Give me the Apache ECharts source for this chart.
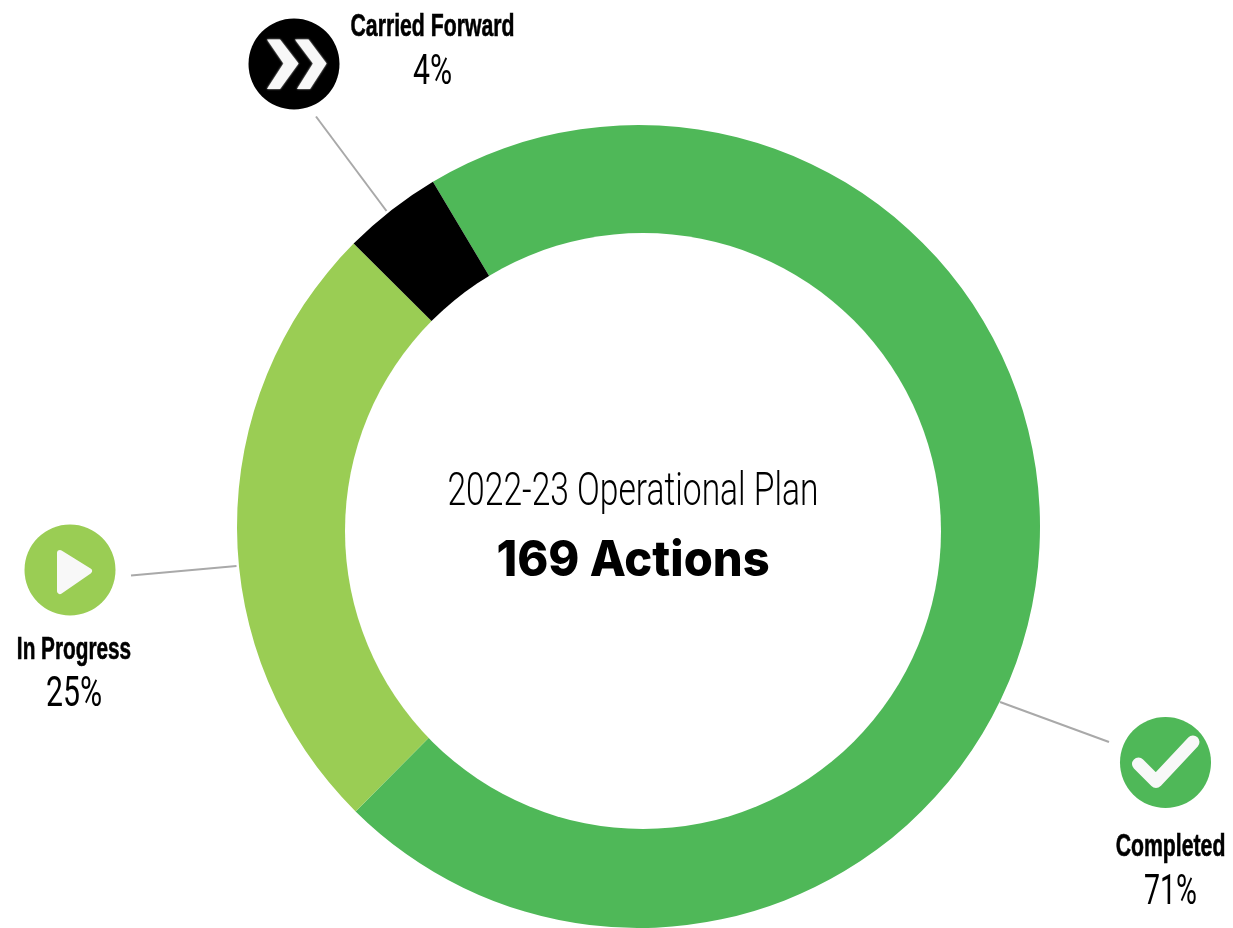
<!DOCTYPE html>
<html>
<head>
<meta charset="utf-8">
<title>2022-23 Operational Plan</title>
<style>
	html, body { margin: 0; padding: 0; background: #fff; }
	#main { width: 1233px; height: 928px; }
</style>
<script src="https://cdn.jsdelivr.net/npm/echarts@6/dist/echarts.min.js"></script>
</head>
<body>
<div id="main"></div>
<script>
const statusNames = ["Completed", "In Progress", "Carried Forward"];
const statusValues = [71, 25, 4];
const statusColors = ["#4fb858", "#9acd54", "#000000"];
const planTitle = "2022-23 Operational Plan";
const actionsText = "169 Actions";

const narrowFont = "Liberation Sans";
const thinFont = "Roboto";

// centered text, squeezed with scaleX since no condensed font is installed
function label(text, x, y, family, size, weight, squeeze, thicken) {
	return {
		type: "text",
		x: x,
		y: y,
		scaleX: squeeze,
		z: 10,
		style: {
			text: text,
			fontFamily: family,
			fontSize: size,
			fontWeight: weight,
			fill: "#000",
			stroke: thicken ? "#000" : null,
			lineWidth: thicken || 0,
			align: "center",
			verticalAlign: "middle"
		}
	};
}

function leader(x1, y1, x2, y2) {
	return {
		type: "line",
		z: 5,
		shape: { x1: x1, y1: y1, x2: x2, y2: y2 },
		style: { stroke: "#a9a9a9", lineWidth: 2 }
	};
}

function badge(cx, cy, color) {
	return { type: "circle", z: 6, shape: { cx: cx, cy: cy, r: 45.5 }, style: { fill: color } };
}

function chevron(points) {
	return {
		type: "polygon",
		z: 7,
		shape: { points: points },
		style: { fill: "#f8f8f8", shadowBlur: 2, shadowColor: "#f8f8f8" }
	};
}

var graphics = [
	// the hole sits a few px off the center of the ring in the original
	{ type: "circle", z: 4, shape: { cx: 643, cy: 531, r: 298 }, style: { fill: "#fff" } },

	leader(316, 116.5, 386.5, 211),
	leader(131, 575.5, 236.5, 566),
	leader(1000, 702, 1109, 742),

	badge(294, 64, statusColors[2]),
	chevron([[267, 39.5], [280, 39.5], [298.5, 63.5], [280, 89], [267, 89], [283.5, 63.5]]),
	chevron([[295, 39.5], [308.5, 39.5], [326.5, 63.5], [310, 89], [297, 89], [313, 63.5]]),

	badge(70, 570, statusColors[1]),
	{
		type: "polygon",
		z: 7,
		shape: { points: [[60, 553], [89, 571], [60, 591]] },
		style: { fill: "#f8f8f8", stroke: "#f8f8f8", lineWidth: 6, lineJoin: "round" }
	},

	badge(1165.5, 762.5, statusColors[0]),
	{
		type: "polyline",
		z: 7,
		shape: { points: [[1138.5, 764], [1156, 781.5], [1193, 742]] },
		style: { fill: null, stroke: "#f8f8f8", lineWidth: 13, lineCap: "round", lineJoin: "round" }
	},

	label(statusNames[2], 432.5, 27, narrowFont, 31, "bold", 0.685, 0.6),
	label(statusValues[2] + "%", 432.5, 73, thinFont, 42, 400, 0.72),
	label(statusNames[1], 74, 650, narrowFont, 31, "bold", 0.67, 0.6),
	label(statusValues[1] + "%", 74, 695, thinFont, 42, 400, 0.72),
	label(statusNames[0], 1170.5, 847, narrowFont, 31, "bold", 0.685, 0.6),
	label(statusValues[0] + "%", 1170.5, 893, thinFont, 42, 400, 0.68),

	label(planTitle, 633, 493, thinFont, 46, 300, 0.73),
	label(actionsText, 633, 561, "Inter", 49, 800, 0.96)
];

var chart = echarts.init(document.getElementById("main"));
chart.setOption({
	animation: false,
	graphic: graphics,
	series: [{
		type: "pie",
		center: [638.5, 526.5],
		radius: [280, 401.5],
		startAngle: 120.8,
		clockwise: true,
		silent: true,
		label: { show: false },
		labelLine: { show: false },
		data: statusNames.map(function (name, i) {
			return { name: name, value: statusValues[i], itemStyle: { color: statusColors[i] } };
		})
	}]
});
</script>
</body>
</html>
